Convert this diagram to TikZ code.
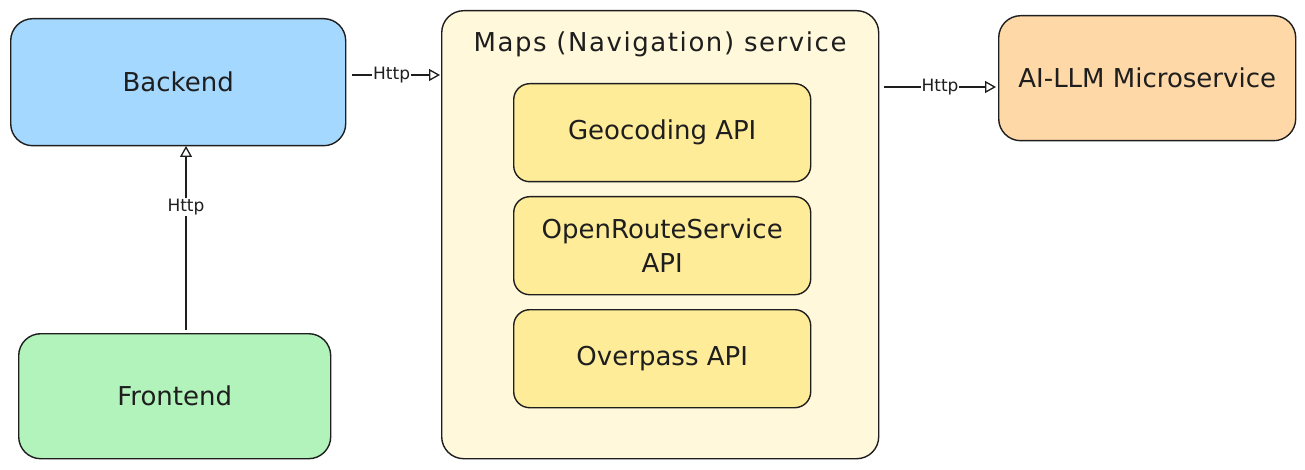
\documentclass[tikz,border=0pt]{standalone}
\usepackage{fontspec}
\setmainfont{DejaVu Sans}
\usetikzlibrary{arrows.meta}
\definecolor{cblue}{HTML}{A5D8FF}
\definecolor{cgreen}{HTML}{B2F2BB}
\definecolor{cyel}{HTML}{FFF8DB}
\definecolor{cyel2}{HTML}{FFEC99}
\definecolor{corange}{HTML}{FFD8A8}
\definecolor{cline}{HTML}{1E1E1E}
\tikzset{
  box/.style={draw=cline, line width=1.4pt, rounded corners=22pt, inner sep=0pt, anchor=north west, font=\fontsize{26}{34}\selectfont, text=cline},
  sub/.style={box, fill=cyel2, rounded corners=16pt, minimum width=297pt, minimum height=98pt, align=center},
  conn/.style={draw=cline, line width=1.3pt, -{Triangle[open, length=11pt, width=12pt, line width=1.3pt]}},
  lbl/.style={fill=white, inner sep=1pt, font=\fontsize{17}{19}\selectfont, text=cline},
}
\begin{document}
\begin{tikzpicture}[x=1pt, y=-1pt]
\useasboundingbox (0,0) rectangle (1305,470);
\node[box, fill=cblue, minimum width=335pt, minimum height=127pt] (backend) at (10,18) {Backend};
\node[box, fill=cgreen, minimum width=312pt, minimum height=125pt] (frontend) at (18,333) {Frontend};
\node[box, fill=cyel, minimum width=437pt, minimum height=448pt] (maps) at (441,10) {};
\node[font=\fontsize{26}{30}\selectfont\addfontfeature{LetterSpace=6}, text=cline] (mapstitle) at (660,44) {Maps (Navigation) service};
\node[sub] (geo) at (513,83) {Geocoding API};
\node[sub] (ors) at (513,196) {OpenRouteService\\API};
\node[sub] (over) at (513,309) {Overpass API};
\node[box, fill=corange, minimum width=297pt, minimum height=125pt] (ai) at (998,15) {AI-LLM Microservice};
\coordinate (b1) at (352,75);
\coordinate (m1) at (440,75);
\draw[conn] (b1) -- (m1) node[lbl, pos=0.45] (l1) {Http};
\coordinate (m2) at (884,87);
\coordinate (a2) at (996,87);
\draw[conn] (m2) -- (a2) node[lbl, pos=0.5] (l2) {Http};
\coordinate (f3) at (186,330);
\coordinate (b3) at (186,146);
\draw[conn] (f3) -- (b3) node[lbl, pos=0.67] (l3) {Http};
\end{tikzpicture}
\end{document}
